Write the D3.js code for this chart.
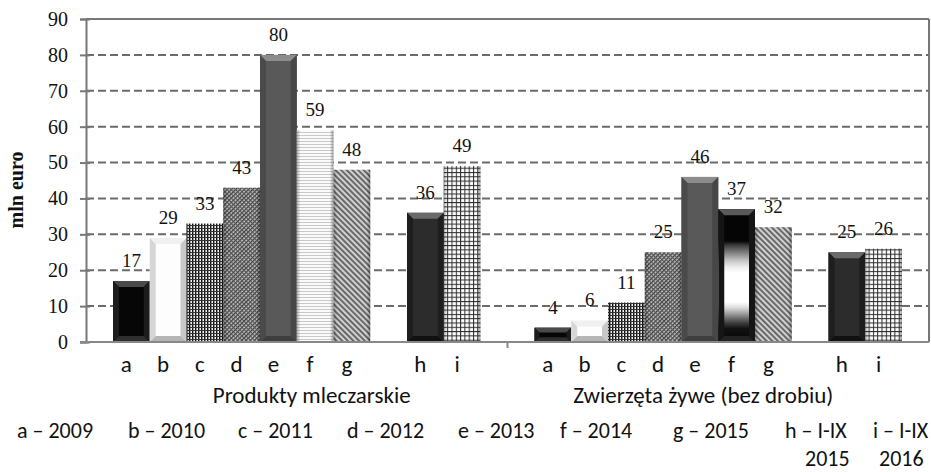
<!DOCTYPE html>
<html>
<head>
<meta charset="utf-8">
<script src="https://cdn.jsdelivr.net/npm/d3@7"></script>
<style>
body { margin: 0; background: #fff; }
svg { display: block; }
</style>
</head>
<body>
<script>
var groups = ["Produkty mleczarskie", "Zwierzęta żywe (bez drobiu)"]
var series = ["a", "b", "c", "d", "e", "f", "g", "h", "i"]
var dairy = [17, 29, 33, 43, 80, 59, 48, 36, 49]
var livestock = [4, 6, 11, 25, 46, 37, 32, 25, 26]
var yTicks = [0, 10, 20, 30, 40, 50, 60, 70, 80, 90]
var legendLabels = ["a – 2009", "b – 2010", "c – 2011", "d – 2012", "e – 2013", "f – 2014", "g – 2015", "h – I-IX", "i – I-IX"]
var legendSecond = ["", "", "", "", "", "", "", "2015", "2016"]

var W = 931, H = 472
var m = {left: 86, right: 929, top: 19, bottom: 342}
var serif = "'Liberation Serif', 'Times New Roman', serif"
var sans = "Carlito, Calibri, Lato, sans-serif"

// empty slot between g and h
var slots = series.slice(0, 7).concat(["_"], series.slice(7))
var values = [dairy, livestock]

var rows = []
groups.forEach(function(g, gi) {
	series.forEach(function(s, si) {
		rows.push({group: g, gi: gi, key: s, value: values[gi][si]})
	})
})

var svg = d3.select("body")
	.append("svg")
	.attr("width", W)
	.attr("height", H)

var x0 = d3.scaleBand()
	.domain(groups)
	.range([m.left, m.right])

var x1 = d3.scaleBand()
	.domain(slots)
	.range([0, x0.bandwidth()])
	.paddingOuter(0.735)

var y = d3.scaleLinear()
	.domain([0, 90])
	.range([m.bottom, m.top])

var defs = svg.append("defs")

function pattern(id, w, h, bg) {
	var p = defs.append("pattern")
		.attr("id", id)
		.attr("width", w)
		.attr("height", h)
		.attr("patternUnits", "userSpaceOnUse")
	p.append("rect").attr("width", w).attr("height", h).attr("fill", bg)
	return p
}

// c - dense plaid
var pc = pattern("pc", 3, 3, "#f2f2f2")
pc.append("rect").attr("x", 0).attr("y", 0).attr("width", 1.4).attr("height", 3).attr("fill", "#111")
pc.append("rect").attr("x", 0).attr("y", 0).attr("width", 3).attr("height", 1).attr("fill", "#333")

// d - fine cross diagonal
var pd = pattern("pd", 3, 3, "#c4c4c4")
	.attr("patternTransform", "rotate(45)")
pd.append("rect").attr("width", 1.3).attr("height", 3).attr("fill", "#3a3a3a")
pd.append("rect").attr("width", 3).attr("height", 1).attr("fill", "#555")

// f (dairy) - light horizontal lines
var pf = pattern("pf", 4, 3, "#fafafa")
pf.append("rect").attr("width", 4).attr("height", 1).attr("fill", "#c9c9c9")

// g - downward diagonal stripes
var pg = pattern("pg", 4, 4, "#d0d0d0")
	.attr("patternTransform", "rotate(-45)")
pg.append("rect").attr("width", 1.8).attr("height", 4).attr("fill", "#5e5e5e")

// i - grid
var pi = pattern("pi", 4.3, 4.3, "#fdfdfd")
pi.append("rect").attr("width", 1).attr("height", 4.3).attr("fill", "#2a2a2a")
pi.append("rect").attr("width", 4.3).attr("height", 1).attr("fill", "#2a2a2a")

// f (live animals) - black / white metallic gradient
var gf = defs.append("linearGradient")
	.attr("id", "gf")
	.attr("x1", 0).attr("y1", 0).attr("x2", 0).attr("y2", 1)
var gfStops = [[0, "#050505"], [0.24, "#050505"], [0.27, "#3a3a3a"], [0.31, "#6a6a6a"], [0.35, "#9a9a9a"],
	[0.39, "#c8c8c8"], [0.44, "#f0f0f0"], [0.48, "#ffffff"], [0.7, "#ffffff"], [0.74, "#dcdcdc"],
	[0.78, "#a8a8a8"], [0.82, "#6e6e6e"], [0.86, "#3a3a3a"], [0.9, "#111"], [1, "#050505"]]
gf.selectAll("stop")
	.data(gfStops)
	.enter()
	.append("stop")
	.attr("offset", function(d) { return d[0] })
	.attr("stop-color", function(d) { return d[1] })

// side shading for patterned bars
var edge = defs.append("linearGradient")
	.attr("id", "edge")
	.attr("x1", 0).attr("y1", 0).attr("x2", 1).attr("y2", 0)
edge.append("stop").attr("offset", 0).attr("stop-color", "#000").attr("stop-opacity", 0.3)
edge.append("stop").attr("offset", 0.1).attr("stop-color", "#000").attr("stop-opacity", 0)
edge.append("stop").attr("offset", 0.9).attr("stop-color", "#000").attr("stop-opacity", 0)
edge.append("stop").attr("offset", 1).attr("stop-color", "#000").attr("stop-opacity", 0.35)

var fills = {
	a: "#060606", b: "#fdfdfd", c: "url(#pc)", d: "url(#pd)", e: "#595959",
	f: "url(#pf)", g: "url(#pg)", h: "#2c2c2c", i: "url(#pi)"
}

// bevel colours: top, left, right, bottom
var bevels = {
	a: ["#4a4a4a", "#1c1c1c", "#1c1c1c", "#2e2e2e"],
	b: ["#f0f0f0", "#d6d6d6", "#c8c8c8", "#b5b5b5"],
	e: ["#8c8c8c", "#4a4a4a", "#474747", "#3e3e3e"],
	h: ["#6a6a6a", "#1e1e1e", "#1e1e1e", "#111111"]
}

function fillFor(d) {
	if (d.key == "f" && d.gi == 1) return "url(#gf)"
	return fills[d.key]
}

function bevelFor(d) {
	if (d.key == "f" && d.gi == 1) return ["#5a5a5a", "#151515", "#151515", "#222"]
	return bevels[d.key]
}

// gridlines
svg.append("g")
	.selectAll("line")
	.data(yTicks.filter(function(t) { return t > 0 && t < 90 }))
	.enter()
	.append("line")
	.attr("x1", m.left)
	.attr("x2", m.right)
	.attr("y1", function(t) { return y(t) })
	.attr("y2", function(t) { return y(t) })
	.attr("stroke", "#6b6b6b")
	.attr("stroke-width", 2)
	.attr("stroke-dasharray", "8,4")

// frame
svg.append("line")
	.attr("x1", m.left).attr("x2", m.right)
	.attr("y1", y(90)).attr("y2", y(90))
	.attr("stroke", "#777").attr("stroke-width", 2)
svg.append("line")
	.attr("x1", m.right).attr("x2", m.right)
	.attr("y1", y(90)).attr("y2", y(0))
	.attr("stroke", "#777").attr("stroke-width", 2)

// bars
function bx(d) { return x0(d.group) + x1(d.key) }
var bw = x1.bandwidth()

var bars = svg.append("g")
	.selectAll("g")
	.data(rows)
	.enter()
	.append("g")

bars.append("rect")
	.attr("x", bx)
	.attr("y", function(d) { return y(d.value) })
	.attr("width", bw)
	.attr("height", function(d) { return y(0) - y(d.value) })
	.attr("fill", fillFor)

bars.filter(function(d) { return !bevelFor(d) })
	.append("rect")
	.attr("x", bx)
	.attr("y", function(d) { return y(d.value) })
	.attr("width", bw)
	.attr("height", function(d) { return y(0) - y(d.value) })
	.attr("fill", "url(#edge)")

bars.filter(function(d) { return bevelFor(d) })
	.each(function(d) {
		var g = d3.select(this)
		var x = bx(d), t = y(d.value), b = y(0), w = bw
		var k = Math.min(6, (b - t) / 3)
		var col = bevelFor(d)
		var polys = [
			[[x, t], [x + w, t], [x + w - k, t + k], [x + k, t + k]],
			[[x, t], [x + k, t + k], [x + k, b - k], [x, b]],
			[[x + w, t], [x + w - k, t + k], [x + w - k, b - k], [x + w, b]],
			[[x, b], [x + k, b - k], [x + w - k, b - k], [x + w, b]]
		]
		g.selectAll("polygon")
			.data(polys)
			.enter()
			.append("polygon")
			.attr("points", function(p) { return p.join(" ") })
			.attr("fill", function(p, i) { return col[i] })
	})

// value labels
svg.append("g")
	.selectAll("text")
	.data(rows)
	.enter()
	.append("text")
	.attr("x", function(d) { return bx(d) + bw / 2 })
	.attr("y", function(d) { return y(d.value) - 14 })
	.attr("text-anchor", "middle")
	.attr("font-family", serif)
	.attr("font-size", 19)
	.attr("fill", "#111")
	.text(function(d) { return d.value })

// y axis
var yAxis = svg.append("g")
	.attr("transform", "translate(" + m.left + ",0)")
	.call(d3.axisLeft(y).tickValues(yTicks).tickSize(6).tickPadding(12))
yAxis.select(".domain").attr("stroke", "#777").attr("stroke-width", 2)
yAxis.selectAll(".tick line").attr("stroke", "#777").attr("stroke-width", 2).attr("x1", 4)
yAxis.selectAll(".tick text")
	.attr("font-family", serif)
	.attr("font-size", 20)
	.attr("fill", "#111")

svg.append("text")
	.attr("transform", "translate(23," + 190 + ") rotate(-90)")
	.attr("text-anchor", "middle")
	.attr("font-family", serif)
	.attr("font-weight", "bold")
	.attr("font-size", 20)
	.attr("fill", "#111")
	.text("mln euro")

// x axis baseline and the tick between groups
svg.append("line")
	.attr("x1", m.left - 6).attr("x2", m.right)
	.attr("y1", y(0)).attr("y2", y(0))
	.attr("stroke", "#888").attr("stroke-width", 2)
svg.append("line")
	.attr("x1", x0(groups[1])).attr("x2", x0(groups[1]))
	.attr("y1", y(0)).attr("y2", y(0) + 6)
	.attr("stroke", "#888").attr("stroke-width", 2)

// series letters under the bars
svg.append("g")
	.selectAll("text")
	.data(rows)
	.enter()
	.append("text")
	.attr("x", function(d) { return bx(d) + bw / 2 - 5 })
	.attr("y", 372)
	.attr("text-anchor", "middle")
	.attr("font-family", sans)
	.attr("font-size", 23)
	.attr("fill", "#111")
	.text(function(d) { return d.key })

var groupShift = [15, -15]
svg.append("g")
	.selectAll("text")
	.data(groups)
	.enter()
	.append("text")
	.attr("x", function(g, i) { return x0(g) + x0.bandwidth() / 2 + groupShift[i] })
	.attr("y", 403)
	.attr("text-anchor", "middle")
	.attr("font-family", sans)
	.attr("font-size", 23)
	.attr("fill", "#111")
	.text(function(g) { return g })

// legend line under the chart
var legendX = [17, 128, 238, 347, 458, 560, 673, 785, 873]
var secondX = [0, 0, 0, 0, 0, 0, 0, 805, 879]

svg.append("g")
	.selectAll("text")
	.data(legendLabels)
	.enter()
	.append("text")
	.attr("x", function(d, i) { return legendX[i] })
	.attr("y", 438)
	.attr("font-family", sans)
	.attr("font-size", 22)
	.attr("fill", "#111")
	.text(function(d) { return d })

svg.append("g")
	.selectAll("text")
	.data(legendSecond)
	.enter()
	.append("text")
	.attr("x", function(d, i) { return secondX[i] })
	.attr("y", 466)
	.attr("font-family", sans)
	.attr("font-size", 22)
	.attr("fill", "#111")
	.text(function(d) { return d })
</script>
</body>
</html>
